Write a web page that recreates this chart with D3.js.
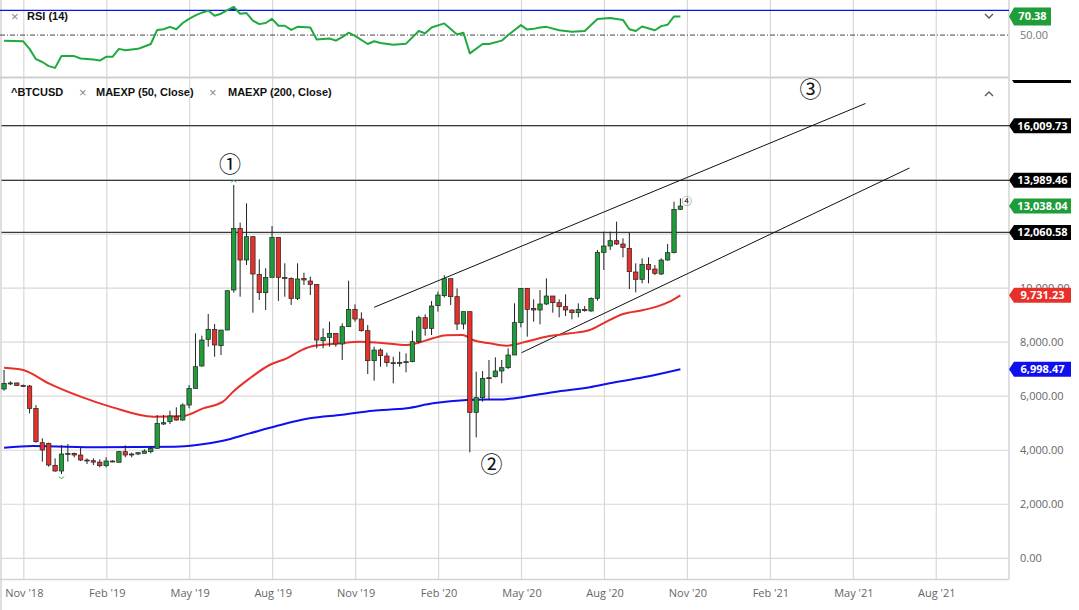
<!DOCTYPE html>
<html>
<head>
<meta charset="utf-8">
<script src="https://cdnjs.cloudflare.com/ajax/libs/d3/7.8.5/d3.min.js"></script>
<style>
  body { margin: 0; background: #fff; }
  svg { display: block; font-family: "Open Sans", sans-serif; }
  .legend { font-family: "Liberation Sans", Arial, sans-serif; font-weight: bold; font-size: 11px; fill: #111; }
  .legend-x { font-family: "Liberation Sans", Arial, sans-serif; font-size: 13px; fill: #888; }
  .axis text { font-family: "Open Sans", sans-serif; font-size: 11px; fill: #666; }
  .tag text { font-family: "Open Sans", sans-serif; font-weight: bold; font-size: 11px; fill: #fff; }
</style>
</head>
<body>
<svg id="chart" width="1079" height="610"></svg>
<script>
// weekly ^BTCUSD candles, index 0 = first week shown
const opens  = [6266,6475,6490,6400,6376,5550,4279,4250,3441,3231,3860,3885,3823,3638,3613,3560,3428,3601,3552,3947,3823,3860,3885,3947,4070,4970,5056,5241,5118,5673,6290,7117,8104,8474,7869,8449,9930,12212,11040,11904,10510,9831,10398,11879,10398,10361,9621,10361,10263,10139,8054,8178,8326,7931,8573,9214,8856,8425,7314,7709,7487,7240,7220,7240,7278,8017,8906,8511,9350,9720,10349,9683,8671,9128,5402,5945,6660,6722,6932,7055,7524,8721,9991,9251,9190,9412,9708,9461,9313,9190,9091,9214,9153,9621,11324,11558,11755,11632,11472,10596,10325,10880,10707,10522,11040,11312,12915];
const highs  = [6969,6549,6500,6430,6414,5673,4440,4280,3700,4193,4230,3909,4107,3700,3700,3662,3737,3630,3971,4181,3909,3920,4033,4156,5303,5303,5464,5587,5735,6414,8326,8240,9041,8671,8449,9905,13816,12422,13137,11904,11065,10732,12298,11879,10917,10398,10917,10571,10423,10139,8511,8758,8326,8696,10275,9399,9103,8634,7832,7771,7610,7462,7647,7586,8425,8980,9029,9523,9868,10473,10349,9991,9128,9128,6907,6932,7339,7438,7339,7771,9436,9991,9991,9584,9930,10361,9708,9584,9769,9214,9436,9338,9658,11410,12089,12089,12459,11842,12064,10917,11102,11139,10855,11102,11632,13199,13322];
const lows   = [6204,6414,6390,6350,5365,4279,3576,3391,3206,3120,3576,3737,3601,3490,3453,3367,3367,3560,3552,3737,3737,3820,3885,3885,4070,4932,4970,5093,5093,5550,6290,7092,7832,7462,7524,8449,9831,9683,10855,9091,9560,9190,10398,9523,9683,9375,9560,10115,9745,7771,7771,7832,7832,7339,8573,8758,8388,6821,6574,7092,7092,6475,7092,6882,7253,7956,8240,8264,9128,9658,9375,8449,8474,3922,4477,5797,5859,6697,6475,7006,7524,8548,8203,8758,8659,9375,9091,8918,8967,8844,8918,9128,9128,9535,10670,11410,11595,11139,9967,9843,10176,10176,10485,10485,11015,11287,12891];
const closes = [6475,6490,6400,6380,5550,4316,4008,3453,3231,3860,3885,3823,3638,3613,3560,3428,3601,3580,3947,3823,3860,3909,3971,4070,4994,5019,5266,5118,5673,6290,7092,8079,8474,7894,8449,9905,12212,11040,11904,10522,9831,10398,11879,10398,10370,9621,10337,10300,10139,8079,8166,8326,7931,8573,9214,8856,8425,7314,7709,7499,7240,7220,7250,7278,8017,8906,8511,9338,9745,10349,9683,8671,9128,5402,5945,6660,6685,6932,7055,7524,8721,9991,9214,9190,9412,9708,9461,9313,9190,9091,9214,9165,9621,11324,11558,11755,11632,11509,10608,10325,10880,10695,10547,11040,11312,12915,13038.04];

// [week index, value]
const ema50 = [[0,7055],[3,6969],[7,6475],[12,5982],[17,5587],[23.4,5241],[28,5266],[31.2,5550],[34.3,5797],[35.9,6167],[38.5,6660],[41.6,7154],[44.3,7401],[46.9,7734],[48.4,7857],[52.6,7956],[55.8,8017],[58.9,7980],[63.1,7894],[64.6,7956],[67.2,8141],[69.3,8252],[71.9,8264],[73.5,8079],[76.1,7956],[78.7,7869],[82.4,8054],[85.5,8227],[88.7,8326],[91.8,8449],[93.9,8696],[97,9041],[100.2,9190],[102.3,9313],[104.3,9498],[106,9731.23]];
const ema200 = [[0,4094],[4.5,4156],[15,4107],[26.8,4131],[30.2,4193],[34.3,4353],[38.5,4625],[42.7,4896],[47.9,5180],[53,5315],[57.8,5464],[63.1,5550],[67.2,5735],[72.5,5859],[78.7,5890],[80,5925],[85.5,6130],[91.8,6327],[94.9,6475],[100.2,6697],[106,6998.47]];
const rsi14 = [[0,43.9],[3,43.2],[4,34.9],[5,23.6],[6,20.5],[7,16.0],[8,14.1],[9,27.0],[11,27.0],[12,24.3],[14,23.2],[15,22.1],[16,26.2],[17,26.2],[18,34.9],[19,33.4],[21,34.9],[22,37.5],[23,40.2],[24,55.6],[25,56.4],[26,59.0],[27,56.4],[28,63.2],[29,67.7],[30,71.5],[31,74.5],[32,76.8],[33,71.1],[34,73.4],[35,77.2],[36,80.9],[37,73.4],[38,74.1],[39,65.8],[40,62.0],[41,63.2],[42,67.7],[43,60.2],[44,60.2],[45,55.6],[46,59.0],[48,58.3],[49,45.1],[51,46.2],[52,43.9],[53,47.7],[54,52.6],[55,49.2],[57,40.2],[58,43.2],[59,41.3],[61,39.4],[63,40.6],[65,54.5],[66,51.9],[67,58.3],[69,62.8],[71,50.7],[72,52.6],[73,30.0],[75,40.2],[76,40.2],[78,43.9],[79,50.0],[81,60.9],[82,56.0],[83,56.8],[84,58.3],[85,59.0],[87,55.3],[89,53.7],[91,54.5],[93,67.7],[95,68.8],[97,66.6],[98,56.4],[99,54.5],[100,59.4],[102,55.3],[103,59.8],[104,61.3],[105,70.4],[106,70.38]];
const rsiHigh = 77;
const rsiMid = 50;

const levels = [16009.73, 13989.46, 12060.58, 17870];
const channels = [[[58.0, 9289], [135.0, 16832]], [[81.1, 7609], [141.9, 14445]]];
const waveMarks = [["①", 35.4, 14600], ["②", 76.4, 3500], ["③", 126.4, 17350], ["④", 107.0, 13200]];
const swingMarks = [[36, "high"], [9, "low"]];

const priceTicks = [0, 2000, 4000, 6000, 8000, 10000, 12000, 14000, 16000];
const tickIdx = [3.1, 16.1, 29.1, 42.1, 55.1, 68.1, 81.1, 94.1, 107.1, 120.1, 133.1, 146.1];
const tickLabels = ["Nov '18", "Feb '19", "May '19", "Aug '19", "Nov '19", "Feb '20", "May '20", "Aug '20", "Nov '20", "Feb '21", "May '21", "Aug '21"];

const candles = opens.map((o, i) => ({i: i, o: o, h: highs[i], l: lows[i], c: closes[i]}));

const plotLeft = 1.5, plotRight = 1009;
const rsiTop = 0, rsiBottom = 77;
const mainTop = 78, mainBottom = 579.6;
const green = "#1f9d3a", red = "#e8302a", blue = "#1010ee";

let x = d3.scaleLinear().domain([-0.4, 157.5]).range([plotLeft, plotRight]);
let y = d3.scaleLinear().domain([-788, 17776]).range([mainBottom, mainTop]);
let yR = d3.scaleLinear().domain([4.1, 88.4]).range([rsiBottom, rsiTop]);

let svg = d3.select("#chart");
let defs = svg.append("defs");
defs.append("clipPath").attr("id", "clip-main").append("rect")
	.attr("x", 0).attr("y", mainTop).attr("width", plotRight).attr("height", mainBottom - mainTop);
defs.append("clipPath").attr("id", "clip-rsi").append("rect")
	.attr("x", 0).attr("y", rsiTop).attr("width", plotRight).attr("height", rsiBottom - rsiTop);
defs.append("clipPath").attr("id", "clip-ob").append("rect")
	.attr("x", 0).attr("y", rsiTop).attr("width", plotRight).attr("height", yR(rsiHigh));
defs.append("clipPath").attr("id", "clip-tags").append("rect")
	.attr("x", plotRight).attr("y", mainTop + 2).attr("width", 80).attr("height", mainBottom - mainTop);

// grid
svg.append("g").selectAll("line").data(tickIdx).join("line")
	.attr("x1", d => x(d)).attr("x2", d => x(d))
	.attr("y1", 0).attr("y2", mainBottom)
	.attr("stroke", "#d8d8d8").attr("stroke-width", 1.2);
svg.append("g").selectAll("line").data(priceTicks).join("line")
	.attr("x1", plotLeft).attr("x2", plotRight)
	.attr("y1", d => y(d)).attr("y2", d => y(d))
	.attr("stroke", "#d8d8d8").attr("stroke-width", 1.2);

// frame
svg.append("line").attr("x1", plotRight).attr("x2", plotRight).attr("y1", 0).attr("y2", mainBottom)
	.attr("stroke", "#d4d4d4").attr("stroke-width", 1.5);
svg.append("line").attr("x1", 1).attr("x2", 1).attr("y1", 0).attr("y2", 610)
	.attr("stroke", "#d4d4d4").attr("stroke-width", 1.5);
svg.append("line").attr("x1", 0).attr("x2", plotRight).attr("y1", mainBottom).attr("y2", mainBottom)
	.attr("stroke", "#d4d4d4").attr("stroke-width", 1.5);
svg.append("line").attr("x1", 0).attr("x2", plotRight).attr("y1", rsiBottom + 0.5).attr("y2", rsiBottom + 0.5)
	.attr("stroke", "#cfcfcf").attr("stroke-width", 2);

// RSI panel
let rsiG = svg.append("g").attr("clip-path", "url(#clip-rsi)");
rsiG.append("line").attr("x1", 0).attr("x2", plotRight)
	.attr("y1", yR(rsiMid)).attr("y2", yR(rsiMid))
	.attr("stroke", "#444").attr("stroke-width", 1).attr("stroke-dasharray", "5,2,1,2");
rsiG.append("path").datum(rsi14)
	.attr("clip-path", "url(#clip-ob)")
	.attr("fill", blue)
	.attr("d", d3.area().x(d => x(d[0])).y0(yR(rsiHigh)).y1(d => yR(d[1])));
rsiG.append("line").attr("x1", 0).attr("x2", plotRight)
	.attr("y1", yR(rsiHigh)).attr("y2", yR(rsiHigh))
	.attr("stroke", blue).attr("stroke-width", 1.2);
rsiG.append("path").datum(rsi14)
	.attr("fill", "none").attr("stroke", "#1faa40").attr("stroke-width", 2)
	.attr("stroke-linejoin", "round")
	.attr("d", d3.line().x(d => x(d[0])).y(d => yR(d[1])));

// main panel
let main = svg.append("g").attr("clip-path", "url(#clip-main)");

main.selectAll(".level").data(levels).join("line")
	.attr("class", "level")
	.attr("x1", plotLeft).attr("x2", plotRight)
	.attr("y1", d => y(d)).attr("y2", d => y(d))
	.attr("stroke", "#3a3a3a").attr("stroke-width", 1.3);

main.selectAll(".channel").data(channels).join("line")
	.attr("class", "channel")
	.attr("x1", d => x(d[0][0])).attr("y1", d => y(d[0][1]))
	.attr("x2", d => x(d[1][0])).attr("y2", d => y(d[1][1]))
	.attr("stroke", "#111").attr("stroke-width", 1);

let emaLine = d3.line().x(d => x(d[0])).y(d => y(d[1])).curve(d3.curveMonotoneX);
main.append("path").datum(ema200)
	.attr("fill", "none").attr("stroke", blue).attr("stroke-width", 2)
	.attr("d", emaLine);
main.append("path").datum(ema50)
	.attr("fill", "none").attr("stroke", red).attr("stroke-width", 2)
	.attr("d", emaLine);

let bw = 4.4;
let cg = main.selectAll(".candle").data(candles).join("g").attr("class", "candle");
cg.append("line")
	.attr("x1", d => x(d.i)).attr("x2", d => x(d.i))
	.attr("y1", d => y(d.h)).attr("y2", d => y(d.l))
	.attr("stroke", "#222").attr("stroke-width", 1);
cg.append("rect")
	.attr("x", d => x(d.i) - bw / 2)
	.attr("y", d => y(Math.max(d.o, d.c)))
	.attr("width", bw)
	.attr("height", d => Math.max(1, Math.abs(y(d.o) - y(d.c))))
	.attr("fill", d => d.c >= d.o ? green : red)
	.attr("stroke", "#222").attr("stroke-width", 0.7);

main.selectAll(".swing").data(swingMarks).join("path")
	.attr("class", "swing")
	.attr("fill", "none").attr("stroke", "#2bb04a").attr("stroke-width", 1)
	.attr("d", d => {
		let c = candles[d[0]];
		let cx = x(c.i);
		if (d[1] === "high") {
			let cy = y(c.h) - 4;
			return `M${cx - 2.5},${cy + 1.5}Q${cx},${cy - 2.5} ${cx + 2.5},${cy + 1.5}`;
		}
		let cy = y(c.l) + 4;
		return `M${cx - 2.5},${cy - 1.5}Q${cx},${cy + 2.5} ${cx + 2.5},${cy - 1.5}`;
	});

main.selectAll(".wave").data(waveMarks).join("text")
	.attr("class", "wave")
	.attr("x", d => x(d[1])).attr("y", d => y(d[2]))
	.attr("text-anchor", "middle").attr("dy", "0.36em")
	.style("font-family", "'Noto Sans CJK JP', 'DejaVu Sans', sans-serif")
	.style("font-size", d => d[0] === "④" ? "10px" : "22px")
	.style("fill", "#111")
	.text(d => d[0]);

// legends
svg.append("text").attr("class", "legend-x").attr("x", 11).attr("y", 16).attr("dy", "0.35em").text("×");
svg.append("text").attr("class", "legend").attr("x", 27).attr("y", 16).attr("dy", "0.35em").text("RSI (14)");
svg.append("text").attr("class", "legend").attr("x", 11).attr("y", 92).attr("dy", "0.35em").text("^BTCUSD");
svg.append("text").attr("class", "legend-x").attr("x", 79).attr("y", 92).attr("dy", "0.35em").text("×");
svg.append("text").attr("class", "legend").attr("x", 96).attr("y", 92).attr("dy", "0.35em").text("MAEXP (50, Close)");
svg.append("text").attr("class", "legend-x").attr("x", 209).attr("y", 92).attr("dy", "0.35em").text("×");
svg.append("text").attr("class", "legend").attr("x", 228).attr("y", 92).attr("dy", "0.35em").text("MAEXP (200, Close)");

svg.append("path").attr("d", "M985,14 l4,4 l4,-4").attr("fill", "none").attr("stroke", "#555").attr("stroke-width", 1.3);
svg.append("path").attr("d", "M985,96 l4,-4 l4,4").attr("fill", "none").attr("stroke", "#555").attr("stroke-width", 1.3);

// axes; labels that sit fully under a level tag are left out, as in the source
let tagged = levels.map(v => y(v));
let yAxis = d3.axisRight(y).tickValues(priceTicks.filter(t => !tagged.some(ty => Math.abs(ty - y(t)) < 5)))
	.tickFormat(d3.format(",.2f")).tickSize(0).tickPadding(0);
svg.append("g").attr("class", "axis").attr("transform", `translate(1020,0)`).call(yAxis)
	.call(g => g.select(".domain").remove());

let xAxis = d3.axisBottom(x).tickValues(tickIdx).tickFormat((d, i) => tickLabels[i]).tickSize(0).tickPadding(10);
svg.append("g").attr("class", "axis").attr("transform", `translate(0,${mainBottom})`).call(xAxis)
	.call(g => g.select(".domain").remove());

svg.append("text").attr("x", 1020).attr("y", yR(rsiMid)).attr("dy", "0.35em")
	.style("font-size", "11px").style("fill", "#777").text(d3.format(".2f")(rsiMid));

// value tags on the price scale
function tag(g, cy, h, w, color, label) {
	let x0 = plotRight;
	let t = g.append("g").attr("class", "tag");
	t.append("path")
		.attr("d", `M${x0},${cy}L${x0 + 5},${cy - h / 2}L${x0 + w},${cy - h / 2}L${x0 + w},${cy + h / 2}L${x0 + 5},${cy + h / 2}Z`)
		.attr("fill", color);
	t.append("text").attr("x", x0 + 5 + (w - 5) / 2).attr("y", cy).attr("dy", "0.36em")
		.attr("text-anchor", "middle").text(label);
}
let tags = svg.append("g");
let tagsMain = tags.append("g").attr("clip-path", "url(#clip-tags)");
let fmt = d3.format(",.2f");
levels.forEach(v => tag(tagsMain, y(v), 15, 62, "#000", fmt(v)));
tag(tagsMain, y(closes[closes.length - 1]), 15, 62, green, fmt(closes[closes.length - 1]));
tag(tagsMain, y(ema50[ema50.length - 1][1]), 15, 62, red, fmt(ema50[ema50.length - 1][1]));
tag(tagsMain, y(ema200[ema200.length - 1][1]), 15, 62, blue, fmt(ema200[ema200.length - 1][1]));
let lastRsi = rsi14[rsi14.length - 1][1];
tag(tags, yR(lastRsi), 18, 42, green, d3.format(".2f")(lastRsi));
</script>
</body>
</html>
